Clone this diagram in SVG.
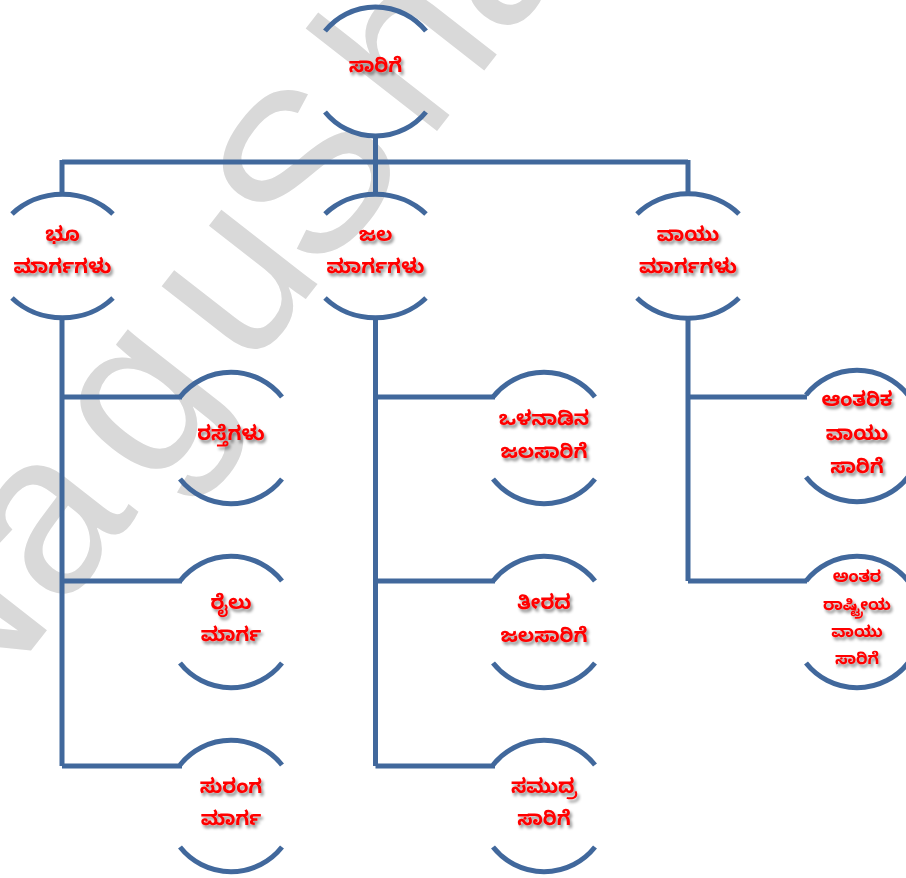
<svg xmlns="http://www.w3.org/2000/svg" width="906" height="878" viewBox="0 0 906 878">
<defs>
<filter id="sh" x="-20%" y="-40%" width="140%" height="180%">
<feDropShadow dx="2" dy="3" stdDeviation="1.8" flood-color="#000" flood-opacity="0.45"/>
</filter>
</defs>
<style>
.arc{fill:none;stroke:#41689c;stroke-width:5;stroke-linecap:butt}
.ln{fill:none;stroke:#41689c;stroke-width:5}
.t{font-family:"Noto Sans Kannada","Noto Sans","Lohit Kannada",sans-serif;font-weight:bold;font-size:20px;fill:#ff0000;text-anchor:middle;dominant-baseline:central;filter:url(#sh)}
.s{font-size:16.5px}
.wm{font-family:"Liberation Sans",Arial,sans-serif;font-size:230px;fill:#d9d9d9;text-anchor:middle}
</style>
<rect width="906" height="878" fill="#fff"/>
<text class="wm" transform="rotate(-52)" y="425"><tspan x="-532">N</tspan><tspan x="-382">a</tspan><tspan x="-230">g</tspan><tspan x="-77">u</tspan><tspan x="53">S</tspan><tspan x="214">h</tspan><tspan x="340">a</tspan><tspan x="450">r</tspan><tspan x="570">m</tspan><tspan x="710">a</tspan></text>
<g id="connectors">
<path class="ln" d="M375.5,137 V162 M62,162 H688 M62,160 V194 M375.5,160 V194 M688,160 V194"/>
<path class="ln" d="M62,319 V766 M62,397 H182 M62,581 H182 M62,766 H182"/>
<path class="ln" d="M375.5,319 V766 M375.5,397 H495 M375.5,581 H495 M375.5,766 H495"/>
<path class="ln" d="M688,319 V581 M688,397 H807 M688,581 H807"/>
</g>
<g id="n-root">
<path class="arc" d="M325,31 A65,65 0 0 1 426,31 M325,112 A65,65 0 0 0 426,112"/>
<text class="t" x="375.5" y="69">ಸಾರಿಗೆ</text>
</g>
<g id="n-land">
<path class="arc" d="M12,214 A69,62 0 0 1 113,214 M12,298 A69,62 0 0 0 113,298"/>
<text class="t" x="62.5" y="238">ಭೂ</text>
<text class="t" x="62.5" y="270">ಮಾರ್ಗಗಳು</text>
</g>
<g id="n-water">
<path class="arc" d="M325,214 A69,62 0 0 1 426,214 M325,298 A69,62 0 0 0 426,298"/>
<text class="t" x="375.5" y="238">ಜಲ</text>
<text class="t" x="375.5" y="270">ಮಾರ್ಗಗಳು</text>
</g>
<g id="n-air">
<path class="arc" d="M637,214 A69,62 0 0 1 739,214 M637,298 A69,62 0 0 0 739,298"/>
<text class="t" x="688" y="238">ವಾಯು</text>
<text class="t" x="688" y="270">ಮಾರ್ಗಗಳು</text>
</g>
<g id="n-roads">
<path class="arc" d="M180,397 A65,65 0 0 1 282,397 M180,479 A65,65 0 0 0 282,479"/>
<text class="t" x="231" y="437">ರಸ್ತೆಗಳು</text>
</g>
<g id="n-rail">
<path class="arc" d="M180,581 A65,65 0 0 1 282,581 M180,663 A65,65 0 0 0 282,663"/>
<text class="t" x="231" y="606">ರೈಲು</text>
<text class="t" x="231" y="638">ಮಾರ್ಗ</text>
</g>
<g id="n-tunnel">
<path class="arc" d="M180,765 A65,65 0 0 1 282,765 M180,847 A65,65 0 0 0 282,847"/>
<text class="t" x="231" y="790">ಸುರಂಗ</text>
<text class="t" x="231" y="822">ಮಾರ್ಗ</text>
</g>
<g id="n-inland">
<path class="arc" d="M493,397 A65,65 0 0 1 595,397 M493,479 A65,65 0 0 0 595,479"/>
<text class="t" x="544" y="422">ಒಳನಾಡಿನ</text>
<text class="t" x="544" y="455">ಜಲಸಾರಿಗೆ</text>
</g>
<g id="n-coastal">
<path class="arc" d="M493,581 A65,65 0 0 1 595,581 M493,663 A65,65 0 0 0 595,663"/>
<text class="t" x="544" y="606">ತೀರದ</text>
<text class="t" x="544" y="639">ಜಲಸಾರಿಗೆ</text>
</g>
<g id="n-sea">
<path class="arc" d="M493,765 A65,65 0 0 1 595,765 M493,847 A65,65 0 0 0 595,847"/>
<text class="t" x="544" y="790">ಸಮುದ್ರ</text>
<text class="t" x="544" y="822">ಸಾರಿಗೆ</text>
</g>
<g id="n-domestic">
<path class="arc" d="M806,395 A65,65 0 0 1 908,395 M806,477 A65,65 0 0 0 908,477"/>
<text class="t" x="857" y="403">ಆಂತರಿಕ</text>
<text class="t" x="857" y="437">ವಾಯು</text>
<text class="t" x="857" y="470">ಸಾರಿಗೆ</text>
</g>
<g id="n-intl">
<path class="arc" d="M806,581 A65,65 0 0 1 908,581 M806,663 A65,65 0 0 0 908,663"/>
<text class="t s" x="857" y="580">ಅಂತರ</text>
<text class="t s" x="857" y="608">ರಾಷ್ಟ್ರೀಯ</text>
<text class="t s" x="857" y="635">ವಾಯು</text>
<text class="t s" x="857" y="662">ಸಾರಿಗೆ</text>
</g>
</svg>
